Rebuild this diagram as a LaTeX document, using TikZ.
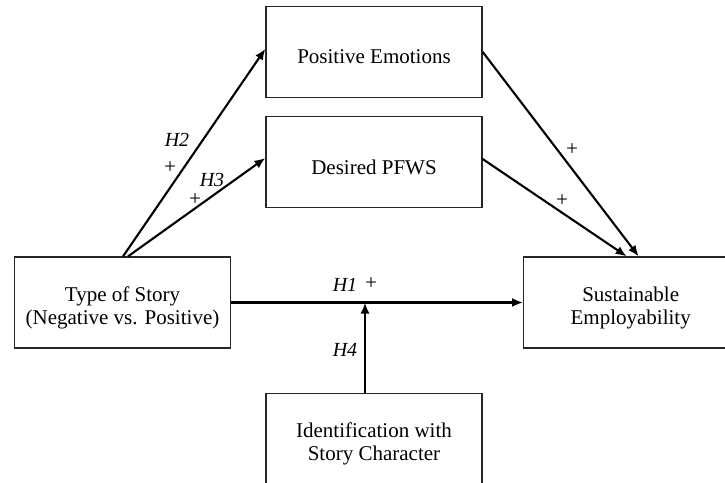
\documentclass[tikz,border=0pt]{standalone}
\usepackage{fontspec}
\setmainfont{Liberation Serif}
\usetikzlibrary{positioning,arrows.meta}

\tikzset{
    box/.style={draw=black!85, line width=1.2pt, minimum width=216pt, minimum height=91pt, inner sep=0pt},
    lbl/.style={align=center, inner sep=0pt, yshift=-5pt, font=\fontsize{21}{23}\selectfont},
    path/.style={line width=2.1pt, -{Latex[length=11pt,width=9pt]}},
    hyp/.style={font=\fontsize{20}{20}\selectfont\itshape, inner sep=0pt},
    sgn/.style={font=\fontsize{21}{21}\selectfont\itshape, inner sep=0pt},
}

\begin{document}
\begin{tikzpicture}[x=1pt, y=-1pt]
    \clip (0,0) rectangle (725,482);
    \node[box, label={[lbl]center:Type of Story\\(Negative vs. Positive)}] (story) at (122.5,302.5) {};
    \node[box, right=292pt of story, minimum width=214pt,
        label={[lbl]center:Sustainable\\Employability}] (sust) {};
    \node[box, label={[lbl]center:Desired PFWS}] (pfws) at (374,162) {};
    \node[box, above=18pt of pfws, label={[lbl]center:Positive Emotions}] (emo) {};
    \node[box, below=185pt of pfws, label={[lbl]center:Identification with\\Story Character}] (ident) {};
    \coordinate[xshift=-9pt] (mod0) at (ident.north);
    \coordinate (mod) at (mod0 |- story.east);

    \draw[path] ([xshift=0.5pt]story.north) -- ([yshift=3pt]emo.west);
    \draw[path] ([xshift=5.5pt]story.north) -- ([yshift=4pt]pfws.west);
    \draw[path] (emo.east) -- ([xshift=8pt]sust.north);
    \draw[path] ([yshift=3pt]pfws.east) -- ([xshift=-4pt]sust.north);
    \draw[path] (story.east) -- (sust.west);
    \draw[path] (mod0) -- (mod);

    \node[hyp] (h2) at (177,140) {H2};
    \node[sgn] (p2) at (170,168) {+};
    \node[hyp] (h3) at (212,180) {H3};
    \node[sgn] (p3) at (195,200) {+};
    \node[hyp] (h1) at (345,285) {H1};
    \node[sgn] (p1) at (371,284) {+};
    \node[hyp] (h4) at (345,350) {H4};
    \node[sgn] (pe) at (572,150) {+};
    \node[sgn] (pp) at (562,201) {+};
\end{tikzpicture}
\end{document}
